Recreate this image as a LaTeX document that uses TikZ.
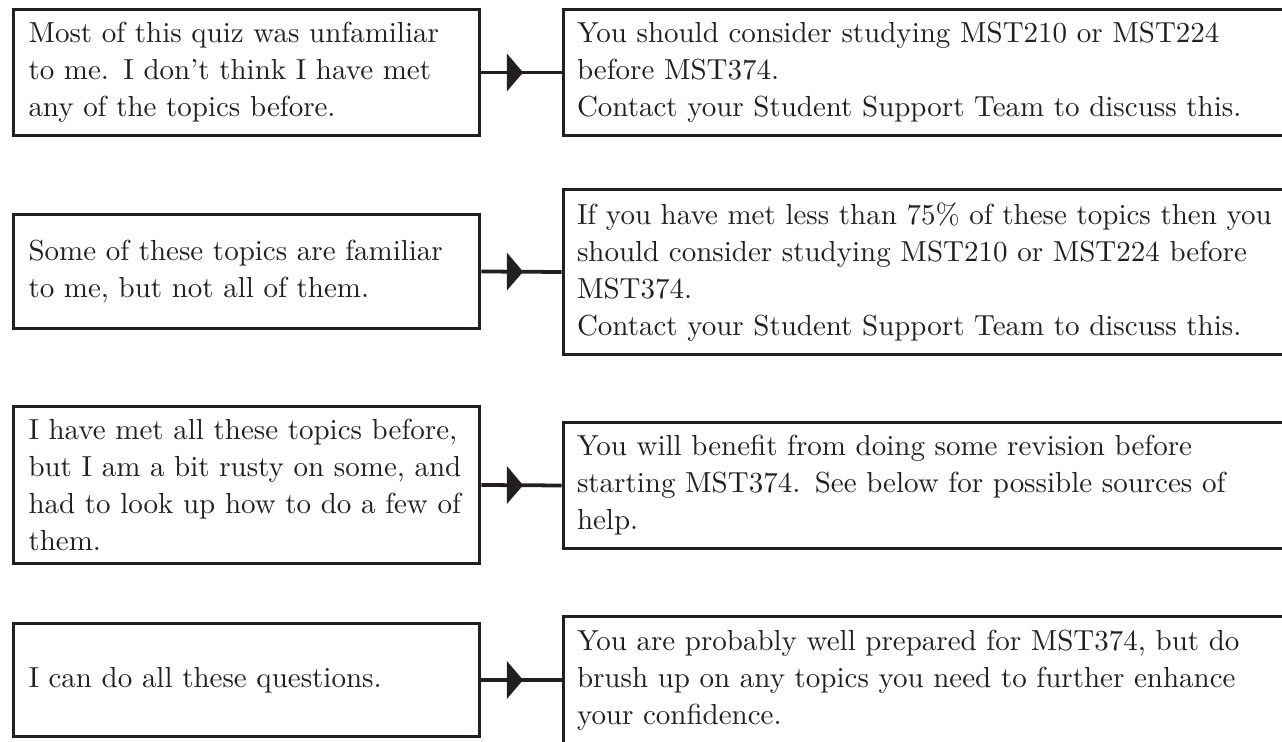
\documentclass[tikz,border=0pt]{standalone}
\usetikzlibrary{arrows.meta,decorations.markings}
\def\pxu{0.345pt}
\definecolor{ink}{RGB}{35,31,32}
\tikzset{
  box/.style={draw=ink, line width=1.3pt, anchor=center, align=left,
    inner ysep=0pt, text=ink, font=\fontsize{10}{12.75}\selectfont},
  lbox/.style={box, inner xsep=15*\pxu, minimum width=466*\pxu, text width=436*\pxu},
  rbox/.style={box, inner xsep=13.5*\pxu, minimum width=800*\pxu, text width=773*\pxu},
  conn/.style={draw=ink, line width=1.3pt, postaction={decorate},
    decoration={markings, mark=at position 0.52 with {\arrow[ink]{Triangle[length=5.6pt,width=12.8pt]}}}}
}
\begin{document}
\begin{tikzpicture}[x=0.345pt,y=-0.345pt]
\useasboundingbox (0,0) rectangle (1282,742);
\clip (0,0) rectangle (1282,742);
% row 1
\node[lbox, minimum height=126*\pxu] (l1) at (246.5,72.5)
  {Most of this quiz was unfamiliar\\ to me. I don't think I have met\\ any of the topics before.};
\node[rbox, minimum height=126*\pxu] (r1) at (963.5,72.5)
  {You should consider studying MST210 or MST224\\ before MST374.\\ Contact your Student Support Team to discuss this.};
% row 2
\node[lbox, minimum height=114*\pxu] (l2) at (246.5,271.5)
  {Some of these topics are familiar\\ to me, but not all of them.};
\node[rbox, minimum height=165*\pxu] (r2) at (963.5,272)
  {If you have met less than 75\% of these topics then you\\ should consider studying MST210 or MST224 before\\ MST374.\\ Contact your Student Support Team to discuss this.};
% row 3
\node[lbox, minimum height=157*\pxu] (l3) at (246.5,485)
  {I have met all these topics before,\\ but I am a bit rusty on some, and\\ had to look up how to do a few of\\ them.};
\node[rbox, minimum height=126*\pxu] (r3) at (963.5,485.5)
  {You will benefit from doing some revision before\\ starting MST374. See below for possible sources of\\ help.};
% row 4
\node[lbox, minimum height=113*\pxu] (l4) at (246.5,680)
  {I can do all these questions.};
\node[rbox, minimum height=127*\pxu] (r4) at (963.5,680)
  {You are probably well prepared for MST374, but do\\ brush up on any topics you need to further enhance\\ your confidence.};
% connectors
\path[conn] (l1.east) -- (r1.west);
\path[conn] (l2.east) -- (r2.west);
\path[conn] (l3.east) -- (r3.west);
\path[conn] (l4.east) -- (r4.west);
\end{tikzpicture}
\end{document}
